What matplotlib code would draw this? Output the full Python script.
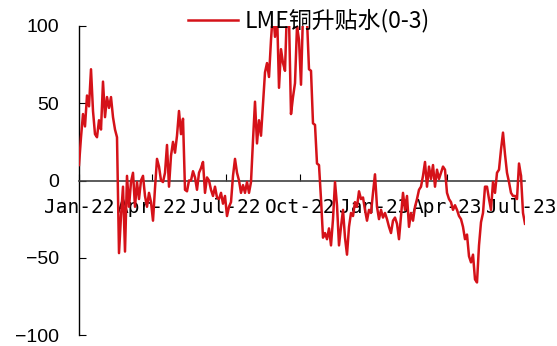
import matplotlib
matplotlib.use("Agg")
import matplotlib.pyplot as plt
import matplotlib.dates as mdates
import pandas as pd

# LME copper cash-3M spread, USD/t, roughly every 2.5 calendar days
start_date = "2022-01-01"
end_date = "2023-07-06"
spread = [
    10, 28, 43, 35, 55, 48, 72, 45, 30, 28, 39, 33, 64, 41, 54, 47,      # Jan-22
    54, 41, 33, 28, -47, -23, -4, -46, 3, -17, -1, 5, -17, -1, -12, 0,
    3, -10, -17, -8, -14, -26, -5, 14, 9, 0, -1, 5, 23, -4, 16, 25,      # Apr-22
    18, 29, 45, 30, 40, -6, -7, 0, 0, 6, 2, -6, 5, 8, 12, -8,
    2, 0, -6, -10, -4, -11, -12, -8, -15, -10, -23, -17, -14, 3, 14, 5,   # Jul-22
    0, -8, -3, -8, -1, -8, -1, 26, 51, 24, 39, 29, 50, 70, 76, 67,
    91, 110, 93, 110, 60, 85, 76, 71, 112, 105, 43, 54, 63, 100, 91, 62,  # Oct-22
    108, 110, 104, 72, 71, 37, 36, 11, 10, -12, -37, -34, -38, -31, -42, -25,
    -1, -16, -42, -30, -19, -37, -48, -30, -21, -23, -14, -17, -7, -12, -11, -19,  # Jan-23
    -26, -19, -21, -8, 4, -17, -25, -19, -24, -21, -25, -30, -34, -26, -24, -28,
    -38, -23, -8, -19, -10, -30, -21, -26, -17, -12, -6, -4, 3, 12, -4, 9,  # Apr-23
    1, 10, -4, 7, 1, 5, 9, 7, -8, -12, -14, -19, -16, -19, -23, -25,
    -30, -38, -35, -49, -53, -48, -64, -66, -42, -27, -21, -4, -4, -12, -19, -1,
    -8, 5, 7, 20, 31, 17, 5, -1, -8, -10, -10, -12, 11, 3, -21, -28,      # Jul-23
]
series_name = "LME铜升贴水(0-3)"

dates = pd.date_range(start_date, end_date, periods=len(spread))

fig = plt.figure(figsize=(5.57, 3.46), dpi=100)
ax = fig.add_axes([79 / 557, 11 / 346, 446 / 557, 309 / 346])

# line goes over the date labels, which sit inside the plot area
line, = ax.plot(dates, spread, color="#d51219", linewidth=1.8, label=series_name, zorder=3)

ax.set_ylim(-100, 100)
ax.set_yticks([-100, -50, 0, 50, 100])
ax.set_xlim(pd.Timestamp(start_date), pd.Timestamp(end_date))

# quarter ticks sitting on the zero line
ax.xaxis.set_major_locator(mdates.MonthLocator(bymonth=[1, 4, 7, 10]))
ax.xaxis.set_major_formatter(mdates.DateFormatter("%b-%y"))

ax.spines["top"].set_visible(False)
ax.spines["right"].set_visible(False)
ax.spines["bottom"].set_position(("data", 0))
ax.spines["bottom"].set_color("#404040")
ax.spines["bottom"].set_linewidth(1.2)
ax.spines["left"].set_color("black")
ax.spines["left"].set_linewidth(1.0)

ax.tick_params(axis="x", direction="in", length=5, width=0.8, pad=12.5, colors="black")
ax.tick_params(axis="y", direction="in", length=5, width=0.8, pad=14.5)
for lab in ax.get_xticklabels():
    lab.set_fontfamily("DejaVu Sans Mono")
    lab.set_fontsize(14)
for lab in ax.get_yticklabels():
    lab.set_fontfamily("Liberation Sans")
    lab.set_fontsize(14)

fig.legend(handles=[line], loc="center left", bbox_to_anchor=(188 / 557, 1 - 21 / 346),
           frameon=False, borderpad=0, borderaxespad=0, handlelength=2.2, handletextpad=0.25,
           prop={"family": ["Noto Sans CJK SC", "DejaVu Sans"], "size": 16.5})

fig.savefig("out.png", dpi=100)
